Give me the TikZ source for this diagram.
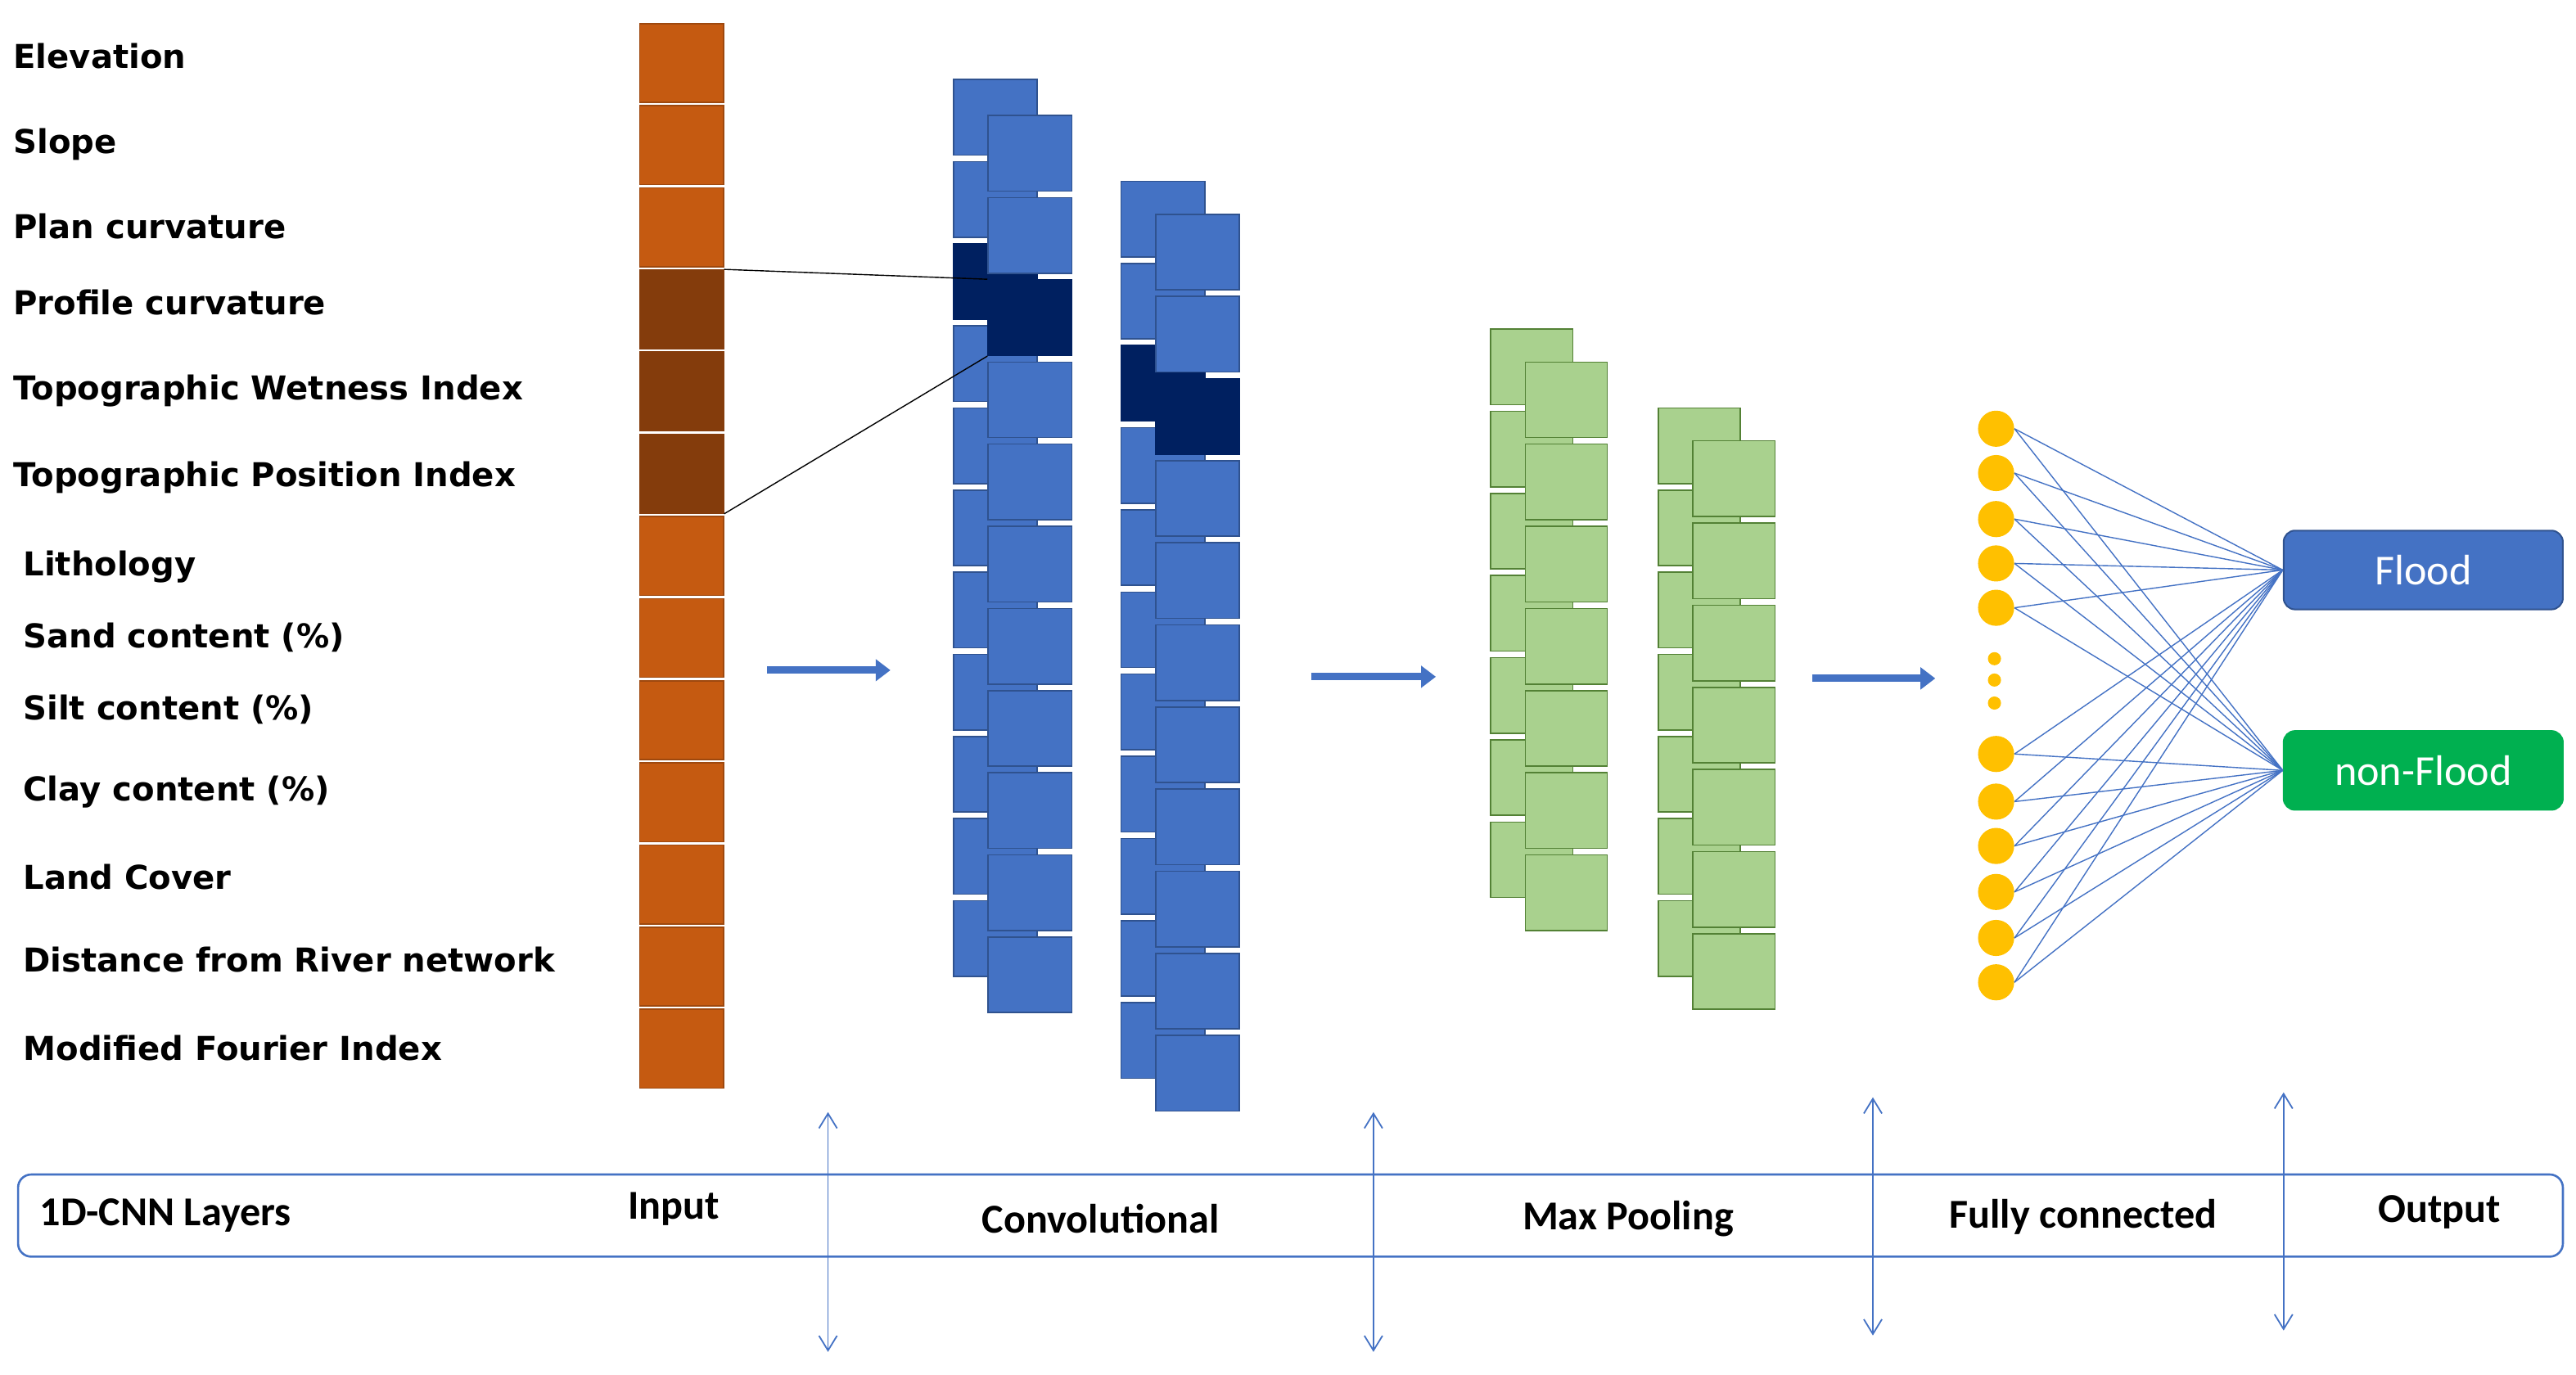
\documentclass[tikz,border=0pt]{standalone}
\usepackage{fontspec}
\setmainfont{Carlito}
\newfontfamily\lblfont{DejaVu Sans}
\usetikzlibrary{arrows.meta}
\definecolor{cnnblue}{HTML}{4472C4}
\definecolor{cnnbord}{HTML}{2F528F}
\definecolor{navy}{HTML}{002060}
\definecolor{inorange}{HTML}{C55A11}
\definecolor{indark}{HTML}{843C0C}
\definecolor{pgreen}{HTML}{A9D18E}
\definecolor{pgbord}{HTML}{538135}
\definecolor{ygold}{HTML}{FFC000}
\definecolor{fgreen}{HTML}{00B050}
\begin{document}
\begin{tikzpicture}[x=1pt,y=-1pt,
  cell/.style={draw, line width=0.8pt, inner sep=0pt, anchor=north west, minimum width=#1},
  incell/.style={cell=51pt, minimum height=48pt, fill=inorange, draw=inorange!80!black},
  bcell/.style={cell=51pt, minimum height=46pt, fill=cnnblue, draw=cnnbord},
  dcell/.style={cell=51pt, minimum height=46pt, fill=navy, draw=navy},
  gcell/.style={cell=50pt, minimum height=46pt, fill=pgreen, draw=pgbord},
  lbl/.style={font=\lblfont\bfseries\fontsize{20}{22}\selectfont, anchor=west, inner sep=0pt},
  band/.style={font=\bfseries\fontsize{25}{27}\selectfont, inner sep=0pt},
  flow/.style={cnnblue, line width=4.5pt, -{Triangle[length=9pt,width=13pt]}},
  dbl/.style={cnnblue, line width=0.9pt, {Straight Barb[length=9pt,width=11pt]}-{Straight Barb[length=9pt,width=11pt]}},
  neuron/.style={circle, fill=ygold, inner sep=0pt, minimum size=22pt},
  fc/.style={cnnblue, line width=0.7pt},
  outbox/.style={rounded corners=7pt, draw, line width=1pt, minimum width=170pt, minimum height=48pt, text=white, font=\fontsize{26}{28}\selectfont, inner sep=0pt}
]
\useasboundingbox (0,0) rectangle (1568,836.6);
% labels
\foreach \t/\x/\y [count=\i] in {Elevation/8/34, Slope/8/88, Plan curvature/8/138, Profile curvature/8/184, Topographic Wetness Index/8/238, Topographic Position Index/8/291, Lithology/14/345, Sand content (\%)/14/388, Silt content (\%)/14/432, Clay content (\%)/14/482, Land Cover/14/534, Distance from River network/14/584, Modified Fourier Index/14/638}
  \node[lbl] (lab\i) at (\x,\y) {\t};
% input column
\foreach \i in {0,...,12} {
  \ifnum\i>2 \ifnum\i<6
    \node[incell, fill=indark, draw=indark] (in\i) at (389,14+50*\i) {};
  \else
    \node[incell] (in\i) at (389,14+50*\i) {};
  \fi\else
    \node[incell] (in\i) at (389,14+50*\i) {};
  \fi}
% conv1
\foreach \i in {0,...,10} {
  \ifnum\i=2 \node[dcell] (c1b\i) at (580,48+50*\i) {};
  \else \node[bcell] (c1b\i) at (580,48+50*\i) {}; \fi}
\foreach \i in {0,...,10} {
  \ifnum\i=2 \node[dcell] (c1f\i) at (601,70+50*\i) {};
  \else \node[bcell] (c1f\i) at (601,70+50*\i) {}; \fi}
% conv2
\foreach \i in {0,...,10} {
  \ifnum\i=2 \node[dcell] (c2b\i) at (682,110+50*\i) {};
  \else \node[bcell] (c2b\i) at (682,110+50*\i) {}; \fi}
\foreach \i in {0,...,10} {
  \ifnum\i=2 \node[dcell] (c2f\i) at (703,130+50*\i) {};
  \else \node[bcell] (c2f\i) at (703,130+50*\i) {}; \fi}
% pooling
\foreach \i in {0,...,6} \node[gcell] (p1b\i) at (907,200+50*\i) {};
\foreach \i in {0,...,6} \node[gcell] (p1f\i) at (928,220+50*\i) {};
\foreach \i in {0,...,6} \node[gcell] (p2b\i) at (1009,248+50*\i) {};
\foreach \i in {0,...,6} \node[gcell] (p2f\i) at (1030,268+50*\i) {};
% input to conv lines
\draw[line width=0.7pt] (in3.north east) -- (c1f2.north west);
\draw[line width=0.7pt] (in5.south east) -- (c1f2.south west);
% flow arrows
\coordinate (a1s) at (467,408); \coordinate (a1e) at (542,408);
\coordinate (a2s) at (798,412); \coordinate (a2e) at (874,412);
\coordinate (a3s) at (1103,413); \coordinate (a3e) at (1178,413);
\draw[flow] (a1s) -- (a1e);
\draw[flow] (a2s) -- (a2e);
\draw[flow] (a3s) -- (a3e);
% outputs
\node[outbox, fill=cnnblue, draw=cnnbord] (flood) at (1475,347) {Flood};
\node[outbox, fill=fgreen, draw=fgreen] (nonflood) at (1475,469) {non-Flood};
% neurons
\foreach \y [count=\i] in {261,288,316,343,370,459,488,515,543,571,598} {
  \node[neuron] (n\i) at (1215,\y) {};
  \draw[fc] (n\i.east) -- (flood.west);
  \draw[fc] (n\i.east) -- (nonflood.west);
}
\foreach \y [count=\i] in {401,414,428} \node[circle, fill=ygold, inner sep=0pt, minimum size=8pt] (dot\i) at (1214,\y) {};
% band
\node[draw=cnnblue, line width=1.3pt, rounded corners=8pt, minimum width=1549pt, minimum height=50pt, inner sep=0pt] (bandbox) at (785.5,740) {};
\node[band, anchor=west] (t1) at (24,740) {1D-CNN Layers};
\node[band] (t2) at (410,736) {Input};
\node[band] (t3) at (670,742) {Convolutional};
\node[band] (t4) at (991,742) {Max Pooling};
\node[band] (t5) at (1268,741) {Fully connected};
\node[band] (t6) at (1485,738) {Output};
% separators
\coordinate (s1t) at (504,677); \coordinate (s1b) at (504,823);
\coordinate (s2t) at (836,677); \coordinate (s2b) at (836,823);
\coordinate (s3t) at (1140,668); \coordinate (s3b) at (1140,813);
\coordinate (s4t) at (1390,665); \coordinate (s4b) at (1390,810);
\draw[dbl] (s1t) -- (s1b);
\draw[dbl] (s2t) -- (s2b);
\draw[dbl] (s3t) -- (s3b);
\draw[dbl] (s4t) -- (s4b);
\end{tikzpicture}
\end{document}
